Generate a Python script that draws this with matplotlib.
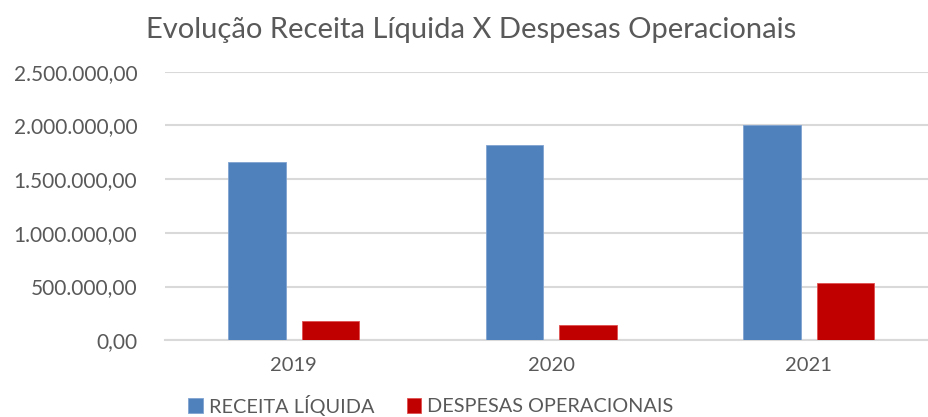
import matplotlib
matplotlib.use("Agg")
import matplotlib.pyplot as plt
import numpy as np
from matplotlib.ticker import FuncFormatter

# valores
anos = ["2019", "2020", "2021"]
receita_liquida = [1657000, 1821000, 2005000]
despesas_operacionais = [177000, 142000, 534000]

BLUE = "#4F81BD"
RED = "#C00000"
GRID = "#D9D9D9"
TEXT = "#595959"

plt.rcParams["font.family"] = ["Lato", "DejaVu Sans"]


def fmt_br(v, pos):
    s = f"{v:,.2f}"
    return s.replace(",", "X").replace(".", ",").replace("X", ".")


fig = plt.figure(figsize=(9.29, 4.17), dpi=100)
ax = fig.add_axes([165 / 929, (417 - 340.3) / 417, (929 - 165) / 929, (340.3 - 71.7) / 417])

x = np.arange(len(anos))
w = 0.224
off = 0.1425
ax.bar(x - off, receita_liquida, w, color=BLUE, edgecolor="#7FA3D1", linewidth=0.6,
       label="RECEITA LÍQUIDA", zorder=3)
ax.bar(x + off, despesas_operacionais, w, color=RED, edgecolor="#E05050", linewidth=0.6,
       label="DESPESAS OPERACIONAIS", zorder=3)

ax.set_xlim(-0.5, 2.467)
ax.set_ylim(0, 2500000)
ax.set_yticks(np.arange(0, 2500001, 500000))
ax.yaxis.set_major_formatter(FuncFormatter(fmt_br))
ax.set_xticks(x)
ax.set_xticklabels(anos)

ax.grid(axis="y", color=GRID, linewidth=1.5, zorder=0)
for s in ["top", "right", "left"]:
    ax.spines[s].set_visible(False)
ax.spines["bottom"].set_color(GRID)
ax.spines["bottom"].set_linewidth(1.5)
ax.tick_params(axis="both", length=0, colors=TEXT, labelsize=15)
ax.tick_params(axis="y", pad=20)
ax.tick_params(axis="x", pad=12, labelsize=14.5)

fig.text(471.5 / 929, 1 - 30 / 417, "Evolução Receita Líquida X Despesas Operacionais",
         ha="center", va="center", fontsize=21, color=TEXT)

leg = fig.legend(loc="center", bbox_to_anchor=(431 / 929, 1 - 405 / 417), ncol=2,
                 frameon=False, fontsize=14.3, handlelength=0.75, handleheight=0.75,
                 handletextpad=0.3, columnspacing=1.6, borderpad=0)
for t in leg.get_texts():
    t.set_color(TEXT)

fig.savefig("out.png", dpi=100)
